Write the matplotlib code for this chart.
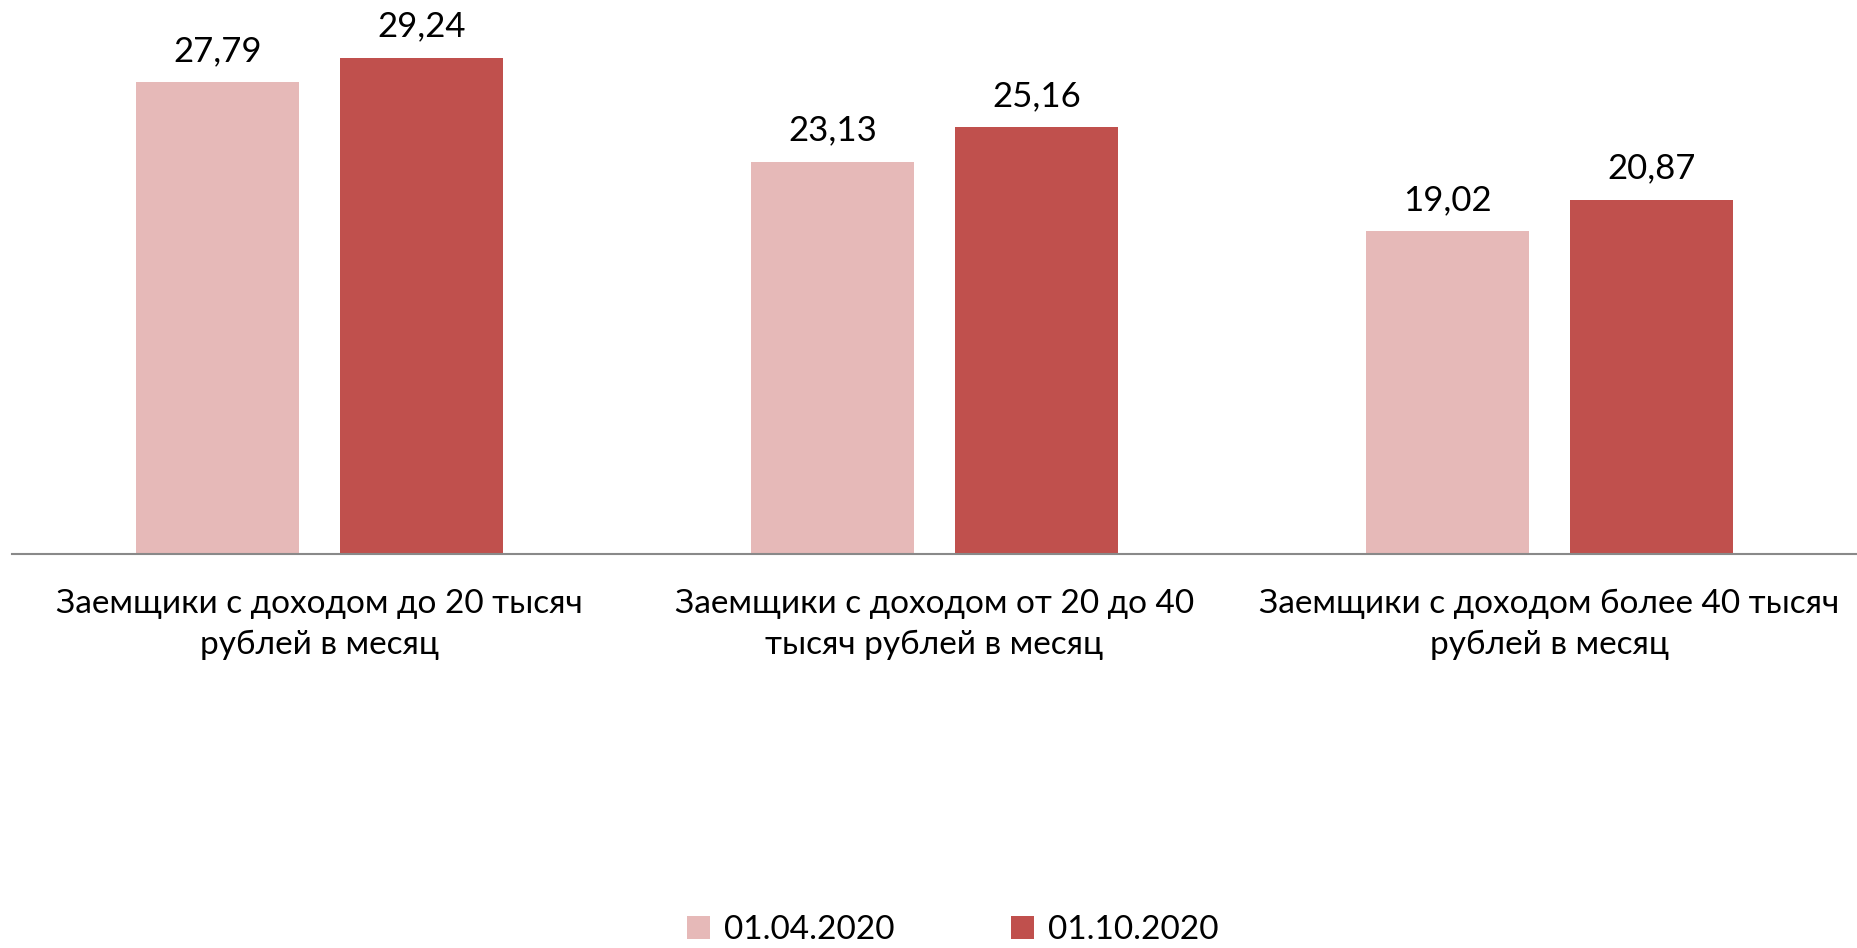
import matplotlib
matplotlib.use("Agg")
import matplotlib.pyplot as plt
from matplotlib.patches import Patch
import numpy as np

categories = ["Заемщики с доходом до 20 тысяч\nрублей в месяц",
              "Заемщики с доходом от 20 до 40\nтысяч рублей в месяц",
              "Заемщики с доходом более 40 тысяч\nрублей в месяц"]
series_names = ["01.04.2020", "01.10.2020"]
values_apr = [27.79, 23.13, 19.02]
values_oct = [29.24, 25.16, 20.87]
colors = ["#E6B9B8", "#C0504D"]

plt.rcParams['font.family'] = ['Lato', 'DejaVu Sans']

fig = plt.figure(figsize=(18.57, 9.48), dpi=100)
ax = fig.add_axes([12/1857, 1-554/948, 1-12/1857, (554-11)/948])

x = np.arange(len(categories))
w = 0.264
off = 0.166
for vals, col, sgn in [(values_apr, colors[0], -1), (values_oct, colors[1], 1)]:
    bars = ax.bar(x + sgn*off, vals, width=w, color=col, edgecolor='none')
    for b, v in zip(bars, vals):
        ax.annotate(f"{v:.2f}".replace('.', ','), (b.get_x()+b.get_width()/2, v),
                    xytext=(0, 11), textcoords='offset points',
                    ha='center', va='bottom', fontsize=25, color='black')

ax.set_xlim(-0.5, 2.5)
ax.set_ylim(0, 32.0)
for s in ['top', 'right', 'left']:
    ax.spines[s].set_visible(False)
ax.spines['bottom'].set_color('#898989')
ax.spines['bottom'].set_linewidth(1.5)
ax.set_yticks([])
ax.set_xticks(x)
ax.set_xticklabels(categories, fontsize=24, linespacing=1.45)
ax.tick_params(axis='x', length=0, pad=25)

handles = [Patch(facecolor=c, edgecolor='none') for c in colors]
fig.legend(handles, series_names, loc='center', bbox_to_anchor=(0.513, 1-930/948),
           ncol=2, frameon=False, fontsize=24, handlelength=0.7, handleheight=0.7,
           handletextpad=0.4, columnspacing=3.5)

fig.savefig("out.png", dpi=100)
